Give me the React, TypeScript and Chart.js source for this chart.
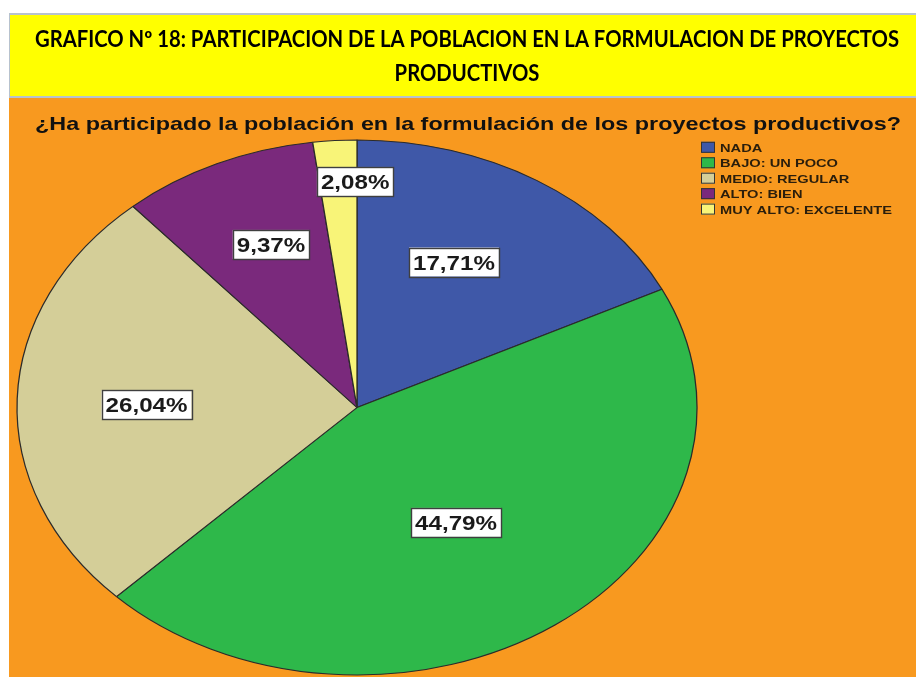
import React, { useEffect, useRef } from 'react';
import { Chart, registerables } from 'chart.js';

Chart.register(...registerables);

// ---- data ----
const TITLE_LINES = [
  'GRAFICO Nº 18: PARTICIPACION DE LA POBLACION EN LA FORMULACION DE PROYECTOS',
  'PRODUCTIVOS',
];
const SUBTITLE = '¿Ha participado la población en la formulación de los proyectos productivos?';
const CATEGORIES = ['NADA', 'BAJO: UN POCO', 'MEDIO: REGULAR', 'ALTO: BIEN', 'MUY ALTO: EXCELENTE'];
const PERCENTAGES = [17.71, 44.79, 26.04, 9.37, 2.08];
const SLICE_COLORS = ['#3F58A8', '#2EB84A', '#D4CE98', '#7A297C', '#F8F478'];

// ---- layout ----
const W = 916;
const H = 677;
const CX = 357;
const CY = 407.5;
const RY = 268;
const SX = 340 / 267.5; // horizontal stretch of the pie (ellipse)
const LABEL_RADIUS = [0.614, 0.519, 0.619, 0.66, 0.845];
const LABEL_ANGLE_FRAC = [0.434, 0.509, 0.489, 0.554, 0.95];

const fmt = (v: number) => v.toFixed(2).replace('.', ',') + '%';

function drawScaled(ctx: CanvasRenderingContext2D, text: string, x: number, y: number, sx: number, align: CanvasTextAlign) {
  ctx.save();
  ctx.translate(x, y);
  ctx.scale(sx, 1);
  ctx.textAlign = align;
  ctx.textBaseline = 'alphabetic';
  ctx.fillText(text, 0, 0);
  ctx.restore();
}

const decorPlugin = {
  id: 'decor',
  beforeDraw(chart: any) {
    const ctx: CanvasRenderingContext2D = chart.ctx;
    ctx.save();
    ctx.fillStyle = '#FFFFFF';
    ctx.fillRect(0, 0, W, H);
    // title box
    ctx.fillStyle = '#B7C2CE';
    ctx.fillRect(9, 13, W - 9, 86);
    ctx.fillStyle = '#FFFF00';
    ctx.fillRect(10, 15, W - 10, 81);
    // orange panel
    ctx.fillStyle = '#F8991F';
    ctx.fillRect(9, 98, W - 9, H - 98);

    // title
    ctx.fillStyle = '#000000';
    ctx.font = 'bold 22px Lato';
    const tw = ctx.measureText(TITLE_LINES[0]).width;
    const tsx = 864 / tw;
    drawScaled(ctx, TITLE_LINES[0], 467, 47, tsx, 'center');
    drawScaled(ctx, TITLE_LINES[1], 467, 81, tsx, 'center');

    // subtitle
    ctx.fillStyle = '#111111';
    ctx.font = 'bold 19px "Liberation Sans"';
    const sw = ctx.measureText(SUBTITLE).width;
    drawScaled(ctx, SUBTITLE, 35, 130, 866 / sw, 'left');

    // legend
    ctx.font = 'bold 11px "Liberation Sans"';
    let maxW = 0;
    CATEGORIES.forEach((c) => { maxW = Math.max(maxW, ctx.measureText(c).width); });
    const lsx = 172 / maxW;
    CATEGORIES.forEach((c, i) => {
      const cy = 147.3 + i * 15.45;
      ctx.fillStyle = SLICE_COLORS[i];
      ctx.fillRect(701, cy - 5.5, 14, 11);
      ctx.strokeStyle = '#333333';
      ctx.lineWidth = 1;
      ctx.strokeRect(701.5, cy - 5, 13, 10);
      ctx.fillStyle = '#2a1e0c';
      drawScaled(ctx, c, 720, cy + 4.5, lsx, 'left');
    });
    ctx.restore();
  },
  beforeDatasetsDraw(chart: any) {
    const ctx = chart.ctx;
    const arc = chart.getDatasetMeta(0).data[0];
    const cx = arc ? arc.x : CX;
    const cy = arc ? arc.y : CY;
    ctx.save();
    ctx.translate(cx, cy);
    ctx.scale(SX, 1);
    ctx.translate(-cx, -cy);
  },
  afterDatasetsDraw(chart: any) {
    const ctx: CanvasRenderingContext2D = chart.ctx;
    ctx.restore();
    const meta = chart.getDatasetMeta(0);
    ctx.save();
    ctx.font = 'bold 21px "Liberation Sans"';
    const lsx = 1.15;
    meta.data.forEach((a: any, i: number) => {
      const p = a.getProps(['x', 'y', 'startAngle', 'endAngle', 'outerRadius'], true);
      const ang = p.startAngle + (p.endAngle - p.startAngle) * LABEL_ANGLE_FRAC[i];
      const r = p.outerRadius * LABEL_RADIUS[i];
      const x = p.x + Math.cos(ang) * r * SX;
      const y = p.y + Math.sin(ang) * r;
      const text = fmt(PERCENTAGES[i]);
      const tw = ctx.measureText(text).width * lsx;
      const bw = tw + 8;
      const bh = 29;
      ctx.fillStyle = '#FFFFFF';
      ctx.fillRect(x - bw / 2, y - bh / 2, bw, bh);
      ctx.strokeStyle = '#3f3f3f';
      ctx.lineWidth = 1.4;
      ctx.strokeRect(Math.round(x - bw / 2) + 0.5, Math.round(y - bh / 2) + 0.5, Math.round(bw), bh);
      ctx.fillStyle = '#1a1a1a';
      drawScaled(ctx, text, x, y + 7.5, lsx, 'center');
    });
    ctx.restore();
  },
};

export default function App() {
  const ref = useRef<HTMLCanvasElement | null>(null);
  useEffect(() => {
    document.body.style.margin = '0';
    const canvas = ref.current;
    if (!canvas) return;
    const chart = new Chart(canvas, {
      type: 'pie',
      data: {
        labels: CATEGORIES,
        datasets: [
          {
            data: PERCENTAGES,
            backgroundColor: SLICE_COLORS,
            borderColor: '#2b2b2b',
            borderWidth: 1,
            clip: false,
          } as any,
        ],
      },
      options: {
        responsive: false,
        animation: false,
        devicePixelRatio: 1,
        events: [],
        layout: {
          padding: {
            left: CX - RY,
            right: W - (CX + RY),
            top: CY - RY,
            bottom: H - (CY + RY),
          },
        },
        plugins: {
          legend: { display: false },
          title: { display: false },
          tooltip: { enabled: false },
        },
      },
      plugins: [decorPlugin],
    });
    return () => chart.destroy();
  }, []);
  return (
    <div style={{ position: 'absolute', left: 0, top: 0, width: W, height: H }}>
      <canvas ref={ref} width={W} height={H} style={{ display: 'block', width: W, height: H }} />
    </div>
  );
}
